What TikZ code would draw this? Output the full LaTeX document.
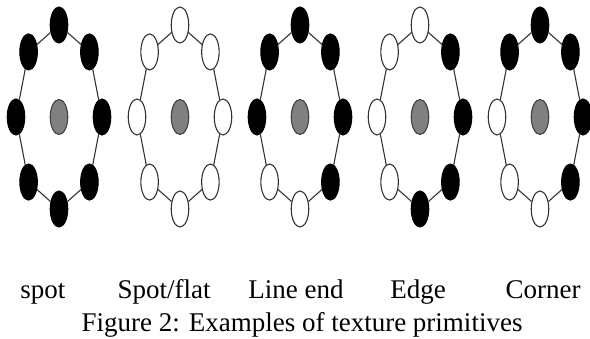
\documentclass[tikz,border=0pt]{standalone}
\usepackage{fontspec}
\setmainfont{Liberation Serif}
\usetikzlibrary{shapes.geometric}

\tikzset{
  pix/.style={ellipse,minimum width=17.5pt,minimum height=36pt,inner sep=0pt,line width=1.1pt},
  pixon/.style={pix,draw=black,fill=black},
  pixoff/.style={pix,draw=black!80,fill=white},
  pixmid/.style={pix,draw=black!75,fill=black!50,minimum height=35pt},
  ring/.style={black!80,line width=1.1pt},
  lbl/.style={anchor=base,inner sep=0pt,font=\fontsize{27}{31}\selectfont},
}

% #1 name, #2 centre x, #3 ring pixels (top, then clockwise), #4 label x, #5 label
\newcommand{\texprim}[5]{
  \begin{scope}[shift={(#2,221)}]
    \node[pixmid] (#1-c) at (0,0) {};
    \foreach \b [count=\i] in {#3}{
      \pgfmathsetmacro\a{135-45*\i}
      \node[pix\b] (#1-\i) at (\a:43pt and 92pt) {};
    }
    \foreach \i in {1,...,8}{
      \pgfmathtruncatemacro\j{mod(\i,8)+1}
      \draw[ring] (#1-\i) -- (#1-\j);
    }
  \end{scope}
  \node[lbl] (#1-lbl) at (#4,40) {#5};
}

\begin{document}
\begin{tikzpicture}[x=1pt,y=1pt]
  \useasboundingbox (0,0) rectangle (590,338);

  \texprim{spot}{59}{on,on,on,on,on,on,on,on}{43}{spot}
  \texprim{flat}{180}{off,off,off,off,off,off,off,off}{164}{Spot/flat}
  \texprim{lineend}{300}{on,on,on,on,off,off,on,on}{296}{Line end}
  \texprim{edge}{420}{off,on,on,on,on,off,off,off}{418}{Edge}
  \texprim{corner}{540}{on,on,on,on,off,off,off,on}{543}{Corner}

  \node[lbl] (caption) at (302,6) {Figure 2: Examples of texture primitives};
\end{tikzpicture}
\end{document}
